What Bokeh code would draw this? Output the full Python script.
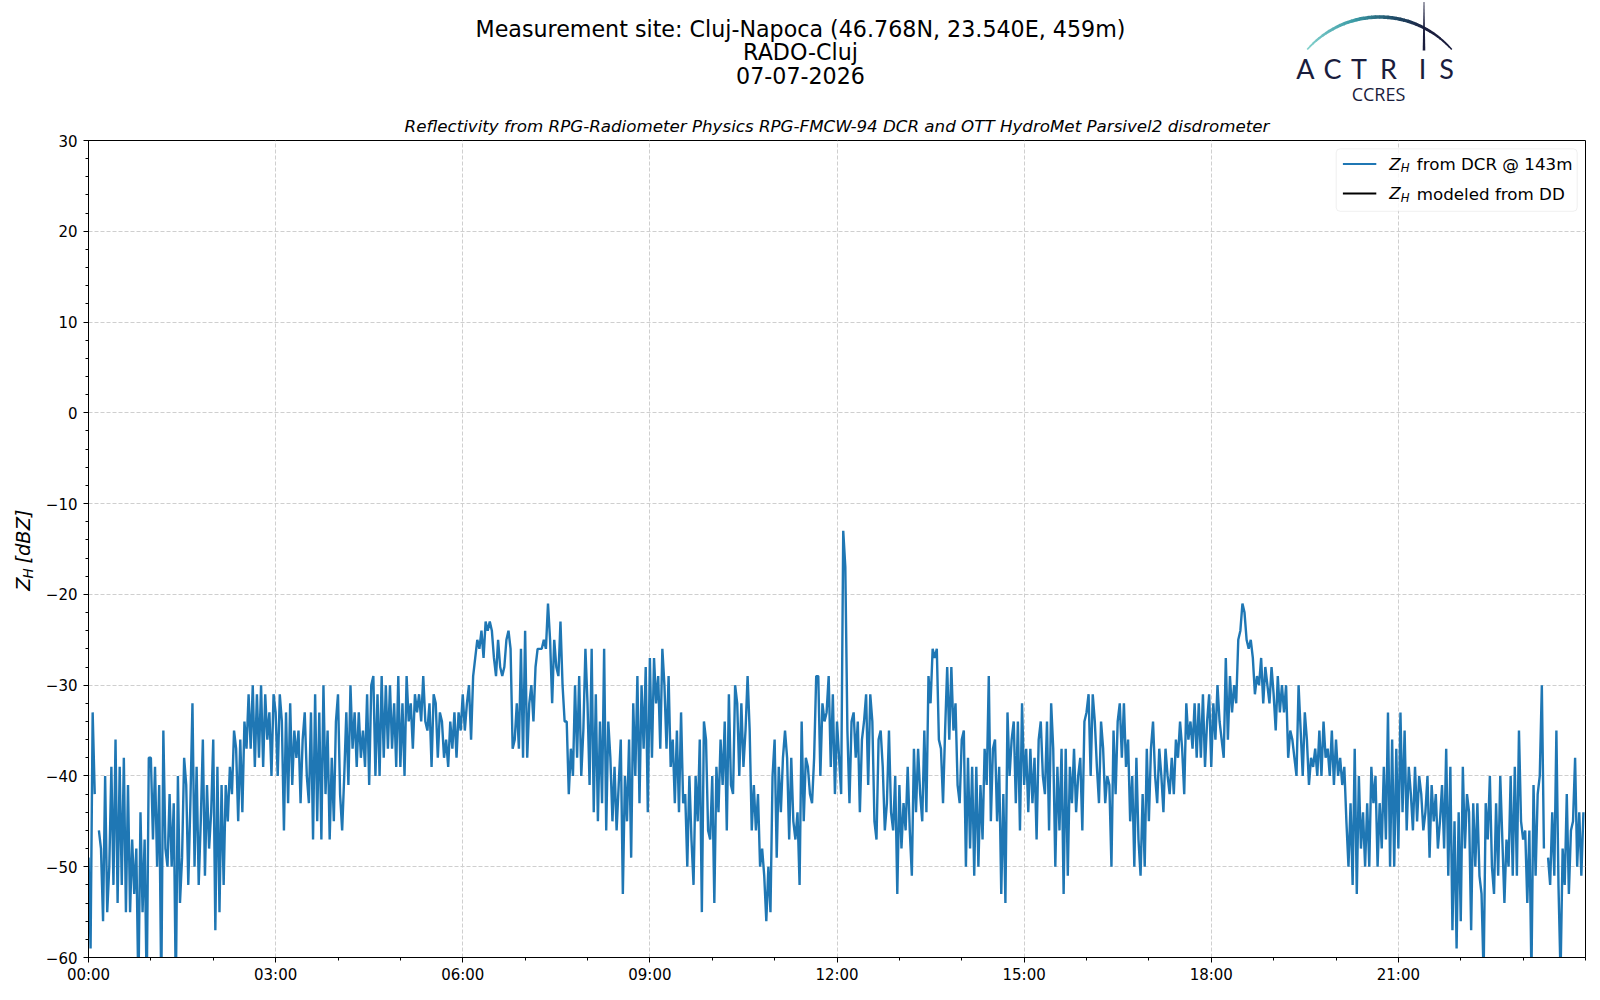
import numpy as np
from bokeh.plotting import figure
from bokeh.layouts import column, row
from bokeh.models import Range1d, FixedTicker, Label, BoxAnnotation, PolyAnnotation
from bokeh.embed import file_html
from bokeh.resources import INLINE

nan = float("nan")

# ---------------- data (2-minute samples, dBZ) ----------------
zh_00_06 = [
    -49, -59, -33, -42, nan, -46, -48, -56, -40, -55, -50, -39, -52, -36, -54, -39, -52, -38, -55, -41, -55, -47, -53, -48, -64, -44, -55, -47, -64, -38,
    -38, -47, -39, -50, -41, -64, -35, -48, -50, -42, -50, -43, -64, -40, -54, -49, -38, -41, -52, -43, -32, -50, -39, -52, -45, -36, -51, -41, -48, -44,
    -36, -57, -39, -55, -41, -52, -41, -45, -39, -42, -35, -37, -45, -36, -44, -34, -37, -31, -37, -30, -39, -31, -38, -30, -39, -31, -36, -33, -40, -31,
    -33, -40, -31, -34, -46, -33, -43, -32, -41, -35, -38, -35, -43, -36, -33, -40, -43, -33, -47, -31, -45, -33, -47, -30, -42, -35, -47, -38, -45, -34,
    -31, -42, -46, -40, -33, -41, -30, -37, -33, -39, -33, -38, -35, -39, -31, -41, -30, -29, -40, -31, -40, -29, -38, -30, -37, -30, -37, -32, -39, -29,
    -39, -32, -40, -29, -34, -32, -37, -31, -33, -31, -34, -29, -34, -35, -32, -39, -31, -32, -38, -33, -34, -38, -36, -39, -34, -37, -33, -38, -33, -35,
]
zh_06_12 = [
    -31, -35, -32, -30, -36, -29, -27, -25, -26, -24, -27, -23, -24, -23, -24, -27, -29, -25, -28, -29, -28, -25, -24, -26, -37, -36, -32, -37, -26, -38,
    -24, -38, -32, -30, -34, -28, -26, -26, -26, -25, -26, -21, -25, -32, -25, -28, -29, -23, -30, -34, -34, -42, -37, -40, -30, -38, -29, -40, -35, -26,
    -32, -41, -26, -44, -31, -45, -34, -43, -26, -46, -34, -38, -45, -39, -46, -41, -36, -53, -40, -45, -36, -49, -32, -40, -29, -43, -30, -37, -28, -44,
    -27, -38, -27, -32, -29, -37, -26, -30, -37, -29, -39, -36, -43, -35, -44, -33, -43, -42, -50, -40, -47, -52, -40, -45, -36, -55, -34, -36, -46, -47,
    -40, -54, -39, -44, -36, -41, -34, -46, -31, -41, -42, -30, -32, -40, -32, -39, -35, -29, -35, -46, -41, -46, -42, -50, -48, -51, -56, -50, -55, -40,
    -36, -49, -39, -44, -38, -35, -38, -47, -38, -45, -47, -44, -52, -34, -45, -38, -39, -42, -43, -38, -29, -29, -40, -32, -34, -33, -29, -39, -31, -42,
]
zh_12_18 = [
    -34, -38, -42, -13, -17, -35, -43, -34, -33, -38, -34, -44, -36, -34, -31, -41, -31, -34, -45, -47, -36, -35, -39, -46, -43, -35, -44, -46, -40, -53,
    -41, -48, -43, -46, -39, -46, -51, -37, -44, -37, -42, -45, -35, -44, -29, -32, -26, -27, -26, -36, -37, -43, -35, -28, -36, -28, -35, -32, -41, -43,
    -36, -35, -50, -38, -48, -39, -51, -39, -50, -41, -47, -37, -41, -29, -45, -37, -36, -45, -39, -53, -42, -54, -33, -40, -36, -34, -43, -34, -46, -32,
    -41, -37, -44, -37, -43, -38, -47, -36, -34, -40, -42, -34, -46, -32, -37, -50, -39, -46, -37, -53, -37, -51, -39, -43, -37, -44, -40, -38, -46, -34,
    -33, -31, -40, -31, -34, -39, -43, -34, -37, -43, -40, -41, -50, -35, -42, -34, -32, -38, -32, -39, -36, -45, -40, -50, -38, -47, -51, -42, -50, -37,
    -45, -37, -34, -40, -43, -37, -40, -44, -37, -40, -42, -38, -42, -36, -38, -34, -37, -42, -32, -36, -34, -37, -32, -38, -32, -38, -31, -39, -34, -31,
]
zh_18_24 = [
    -39, -32, -36, -30, -34, -36, -38, -27, -36, -29, -33, -30, -32, -25, -24, -21, -22, -25, -26, -25, -27, -31, -29, -30, -27, -32, -28, -30, -32, -28,
    -31, -35, -29, -33, -30, -33, -30, -38, -35, -36, -38, -40, -30, -35, -40, -33, -36, -41, -38, -39, -37, -40, -35, -40, -34, -38, -37, -40, -35, -41,
    -36, -40, -38, -41, -39, -45, -50, -43, -52, -37, -53, -40, -48, -44, -50, -43, -50, -39, -43, -40, -50, -43, -48, -39, -47, -33, -50, -36, -50, -37,
    -48, -33, -44, -35, -46, -39, -42, -46, -39, -45, -40, -42, -46, -44, -40, -49, -41, -45, -42, -48, -45, -41, -48, -37, -51, -39, -57, -45, -59, -44,
    -56, -39, -48, -42, -44, -57, -43, -50, -43, -51, -53, -62, -43, -47, -40, -50, -53, -43, -51, -40, -47, -54, -47, -50, -40, -51, -39, -51, -35, -45,
    -47, -46, -54, -46, -62, -41, -51, -42, -40, -30, -48, nan, -49, -52, -44, -51, -35, -52, -62, -48, -52, -42, -53, -46, -45, -38, -50, -44, -51, -44,
]
zh_dd = []          # Z_H modeled from the disdrometer: no values on this day
sample_minutes = 2

x_ticks = [0, 3, 6, 9, 12, 15, 18, 21]
x_tick_labels = ["00:00", "03:00", "06:00", "09:00", "12:00", "15:00", "18:00", "21:00"]
y_ticks = [30, 20, 10, 0, -10, -20, -30, -40, -50, -60]
y_tick_labels = ["30", "20", "10", "0", "\u221210", "\u221220", "\u221230", "\u221240", "\u221250", "\u221260"]

title_lines = ["Measurement site: Cluj-Napoca (46.768N, 23.540E, 459m)", "RADO-Cluj", "07-07-2026"]
subtitle = "Reflectivity from RPG-Radiometer Physics RPG-FMCW-94 DCR and OTT HydroMet Parsivel2 disdrometer"
legend_rest = ["from DCR @ 143m", "modeled from DD"]
legend_colors = ["#1f77b4", "black"]

zh_dcr = np.array(zh_00_06 + zh_06_12 + zh_12_18 + zh_18_24, dtype=float)
time_hours = np.arange(len(zh_dcr)) * sample_minutes / 60.0

# ---------------- page geometry (px) ----------------
FONT = "DejaVu Sans"
PAGE_W = 1600
HEAD_H = 108                                # header strip height (titles + logo)
YLAB_W = 42                                 # y-label strip width
LEFT, TOP, FW, FH = 88, 140, 1497, 817      # plot frame position on the page
MAIN_H = 890
X0, X1, Y0, Y1 = 0, 24, -60, 30
NAVY = "#1a1d3d"


def dx(px):
    return X0 + (px - LEFT) / FW * (X1 - X0)


def dy(py):
    return Y1 - (py - TOP) / FH * (Y1 - Y0)


def blank(width, height, xr, yr):
    f = figure(width=width, height=height, x_range=xr, y_range=yr,
               output_backend="svg", toolbar_location=None,
               x_axis_location=None, y_axis_location=None,
               min_border=0, min_border_left=0, min_border_right=0,
               min_border_top=0, min_border_bottom=0)
    f.grid.visible = False
    f.outline_line_color = None
    f.background_fill_color = "white"
    f.border_fill_color = "white"
    return f


# ---------------- header: titles + logo ----------------
head = blank(PAGE_W, HEAD_H, Range1d(0, PAGE_W), Range1d(HEAD_H, 0))
for text, ypx in zip(title_lines, [28.5, 51, 74.5]):
    head.add_layout(Label(x=800, y=ypx, text=text, text_align="center",
                          text_baseline="middle", text_font=FONT, text_font_size="22.2px",
                          text_color="black"))


def hex2rgb(h):
    return np.array([int(h[i:i + 2], 16) for i in (1, 3, 5)], dtype=float)


stops = [(0.0, "#86d3ce"), (0.35, "#3a9aa5"), (0.6, "#1f4a66"), (0.8, NAVY), (1.0, NAVY)]


def grad(u):
    for (u0, c0), (u1, c1) in zip(stops[:-1], stops[1:]):
        if u <= u1:
            f = (u - u0) / (u1 - u0)
            c = hex2rgb(c0) * (1 - f) + hex2rgb(c1) * f
            return "#%02x%02x%02x" % tuple(int(round(v)) for v in c)
    return stops[-1][1]


cx, cyc, R = 1379.0, 113.0, 96.5
th0, th1 = np.deg2rad(138.5), np.deg2rad(41.5)
nseg = 40
for k in range(nseg):
    u_a, u_b = k / nseg, min((k + 1.15) / nseg, 1.0)
    uu = np.linspace(u_a, u_b, 4)
    th = th0 + (th1 - th0) * uu
    w = 0.6 + 3.0 * np.sin(np.pi * np.clip(uu * 0.85 + 0.08, 0, 1)) ** 0.8
    xo = cx + (R + w / 2) * np.cos(th)
    yo = cyc - (R + w / 2) * np.sin(th)
    xi = cx + (R - w / 2) * np.cos(th)
    yi = cyc - (R - w / 2) * np.sin(th)
    head.add_layout(PolyAnnotation(xs=list(xo) + list(xi[::-1]), ys=list(yo) + list(yi[::-1]),
                                   fill_color=grad((u_a + u_b) / 2), fill_alpha=1, line_alpha=0))

vx = 1423.5
head.add_layout(PolyAnnotation(xs=[vx - 0.4, vx + 0.4, vx + 1.3, vx - 1.3], ys=[1.5, 1.5, 50, 50],
                               fill_color=NAVY, fill_alpha=1, line_alpha=0))
for letter, lx in zip("ACTRIS", [1305, 1332, 1358.5, 1388, 1422, 1446]):
    head.add_layout(Label(x=lx, y=67.5, text=letter, text_align="center",
                          text_baseline="middle", text_font="Lato", text_font_size="27px",
                          text_color=NAVY))
head.add_layout(Label(x=1378, y=93, text="CCRES", text_align="center",
                      text_baseline="middle", text_font="Open Sans", text_font_size="18px",
                      text_color=NAVY))

# ---------------- y-label strip:  Z_H [dBZ] ----------------
ylab = blank(YLAB_W, MAIN_H, Range1d(0, YLAB_W), Range1d(HEAD_H + MAIN_H, HEAD_H))
yl_x, yl_start = 22.5, 598.5
z_w, h_w, sp_w = 13.3, 10.2, 6.2
ylab.add_layout(Label(x=yl_x, y=yl_start, text="Z", angle=np.pi / 2,
                      text_align="left", text_baseline="middle", text_font=FONT,
                      text_font_style="italic", text_font_size="19.4px", text_color="black"))
ylab.add_layout(Label(x=yl_x + 4.5, y=yl_start - z_w, text="H", angle=np.pi / 2,
                      text_align="left", text_baseline="middle", text_font=FONT,
                      text_font_style="italic", text_font_size="13.6px", text_color="black"))
ylab.add_layout(Label(x=yl_x, y=yl_start - z_w - h_w - sp_w, text="[dBZ]", angle=np.pi / 2,
                      text_align="left", text_baseline="middle", text_font=FONT,
                      text_font_style="italic", text_font_size="19.4px", text_color="black"))

# ---------------- main plot ----------------
p = figure(frame_width=FW, frame_height=FH,
           x_range=Range1d(X0, X1), y_range=Range1d(Y0, Y1),
           output_backend="svg", toolbar_location=None,
           min_border_left=LEFT - YLAB_W, min_border_top=TOP - HEAD_H,
           min_border_right=PAGE_W - (LEFT + FW),
           min_border_bottom=MAIN_H - (TOP - HEAD_H) - FH)
p.title.text = subtitle
p.title.align = "center"
p.title.text_font = FONT
p.title.text_font_style = "italic"
p.title.text_font_size = "16.7px"
p.title.text_color = "black"
p.title.standoff = 9
p.background_fill_color = "white"
p.border_fill_color = "white"
p.outline_line_color = "black"
p.outline_line_width = 1
p.outline_line_alpha = 1

p.xaxis.ticker = FixedTicker(ticks=x_ticks, minor_ticks=list(range(0, 25)))
p.xaxis.major_label_overrides = {t: s for t, s in zip(x_ticks, x_tick_labels)}
p.yaxis.ticker = FixedTicker(ticks=y_ticks, minor_ticks=list(range(-60, 31, 2)))
p.yaxis.major_label_overrides = {t: s for t, s in zip(y_ticks, y_tick_labels)}

for ax in (p.xaxis[0], p.yaxis[0]):
    ax.axis_line_color = "black"
    ax.major_tick_line_color = "black"
    ax.minor_tick_line_color = "black"
    ax.major_tick_in = 0
    ax.major_tick_out = 5
    ax.minor_tick_in = 0
    ax.minor_tick_out = 3
    ax.major_label_text_font = FONT
    ax.major_label_text_font_size = "15px"
    ax.major_label_text_color = "black"
p.xaxis.major_label_standoff = 3
p.yaxis.major_label_standoff = 6

p.grid.grid_line_color = "#cfcfcf"
p.grid.grid_line_dash = "4 2"
p.grid.grid_line_width = 1

p.line(time_hours, zh_dcr, line_color=legend_colors[0], line_width=2.4)
p.line(x=[], y=zh_dd, line_color=legend_colors[1], line_width=2)

# legend (drawn by hand to get the subscript)
lg_r = LEFT + FW - 8.3
lg_l, lg_t, lg_b = lg_r - 241, TOP + 8.3, TOP + 8.3 + 62.5
p.add_layout(BoxAnnotation(left=dx(lg_l), right=dx(lg_r), top=dy(lg_t), bottom=dy(lg_b),
                           fill_color="white", fill_alpha=0.8, line_color="#cccccc",
                           line_width=1, border_radius=4))
for i, (rest, col) in enumerate(zip(legend_rest, legend_colors)):
    cy = 163.5 + i * 29.6
    hx = lg_l + 6.7
    p.add_layout(BoxAnnotation(left=dx(hx), right=dx(hx + 33.4), top=dy(cy - 1), bottom=dy(cy + 1),
                               fill_color=col, fill_alpha=1, line_alpha=0))
    tx = hx + 33.4 + 13.0
    p.add_layout(Label(x=dx(tx), y=dy(cy - 0.5), text="Z", text_align="left",
                       text_baseline="middle", text_font=FONT, text_font_style="italic",
                       text_font_size="16.7px", text_color="black"))
    p.add_layout(Label(x=dx(tx + 11.5), y=dy(cy + 4), text="H", text_align="left",
                       text_baseline="middle", text_font=FONT, text_font_style="italic",
                       text_font_size="11.7px", text_color="black"))
    p.add_layout(Label(x=dx(tx + 27.5), y=dy(cy), text=rest, text_align="left",
                       text_baseline="middle", text_font=FONT, text_font_size="16.7px",
                       text_color="black"))

layout = column(head, row(ylab, p, spacing=0), spacing=0)
open("out.html", "w").write(file_html(layout, INLINE))
